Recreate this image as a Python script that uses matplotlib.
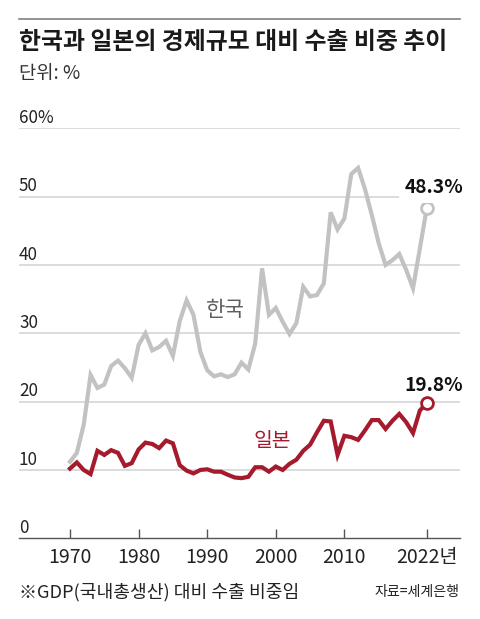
import matplotlib
matplotlib.use("Agg")
import matplotlib.pyplot as plt
from matplotlib.lines import Line2D
import matplotlib.transforms as mtransforms

years = list(range(1970, 2023))
korea = [11.2, 12.5, 16.6, 23.9, 22.0, 22.5, 25.2, 26.0, 24.9, 23.5,
         28.3, 30.0, 27.5, 28.0, 28.9, 26.7, 31.8, 34.8, 32.7, 27.3,
         24.6, 23.7, 24.0, 23.6, 24.0, 25.7, 24.7, 28.5, 39.5, 32.7,
         33.7, 31.7, 29.9, 31.5, 36.8, 35.4, 35.6, 37.3, 47.7, 45.2,
         46.8, 53.3, 54.2, 51.1, 47.3, 43.2, 40.0, 40.7, 41.6, 39.3,
         36.6, 42.4, 48.3]
japan = [10.2, 11.1, 10.0, 9.4, 12.8, 12.2, 12.9, 12.5, 10.6, 11.0,
         13.0, 14.0, 13.8, 13.2, 14.3, 13.9, 10.7, 9.9, 9.5, 10.0,
         10.1, 9.75, 9.75, 9.3, 8.9, 8.8, 9.0, 10.4, 10.4, 9.75,
         10.5, 10.0, 10.9, 11.5, 12.8, 13.7, 15.5, 17.2, 17.1, 12.2,
         15.0, 14.8, 14.4, 15.8, 17.3, 17.3, 16.0, 17.2, 18.2, 17.0,
         15.4, 18.7, 19.8]
xticks = [1970, 1980, 1990, 2000, 2010, 2022]
xtick_labels = ["1970", "1980", "1990", "2000", "2010", "2022년"]
yticks = [0, 10, 20, 30, 40, 50, 60]
ytick_labels = ["0", "10", "20", "30", "40", "50", "60%"]

KR = ["Noto Sans CJK KR", "DejaVu Sans"]
GRAY = "#c2c2c2"
RED = "#a51b2d"

fig = plt.figure(figsize=(4.8, 6.19), dpi=100)
W, H = 480, 619
ax = fig.add_axes([19 / W, 1 - 538.3 / H, 441 / W, 410 / H])
ax.set_xlim(1962.57, 2026.85)
ax.set_ylim(0, 60)

for s in ["top", "left", "right"]:
    ax.spines[s].set_visible(False)
ax.spines["bottom"].set_color("#555555")
ax.spines["bottom"].set_linewidth(1.0)

ax.yaxis.set_visible(False)
for v in yticks[1:]:
    ax.axhline(v, color="#d2d2d2", lw=1.1, zorder=1)

# y labels sit above their gridlines at the left edge
trans = mtransforms.blended_transform_factory(ax.transAxes, ax.transData)
for v, lab in zip(yticks, ytick_labels):
    ax.text(0, v + 0.2, lab, transform=trans, ha="left", va="bottom",
            fontsize=12.3, family=KR, color="#222222")

ax.set_xticks(xticks)
ax.set_xticklabels(xtick_labels, family=KR, fontsize=14, color="#222222")
ax.tick_params(axis="x", direction="in", length=6.5, width=1,
               color="#555555", pad=6)

ax.plot(years, korea, color=GRAY, lw=3, solid_joinstyle="miter", zorder=3)
ax.plot(years, japan, color=RED, lw=3, solid_joinstyle="miter", zorder=4)
ax.plot(years[-1], korea[-1], "o", ms=8.5, mfc="white", mec=GRAY, mew=2, zorder=5)
ax.plot(years[-1], japan[-1], "o", ms=8.5, mfc="white", mec=RED, mew=2, zorder=5)

ax.annotate(f"{korea[-1]}%", (years[-1], korea[-1]), xytext=(5, 15),
            textcoords="offset points", ha="center", va="center",
            fontsize=13.8, fontweight="bold", family=KR, color="#111111",
            bbox=dict(boxstyle="square,pad=0.3", fc="white", ec="none"), zorder=6)
ax.annotate(f"{japan[-1]}%", (years[-1], japan[-1]), xytext=(5, 12.5),
            textcoords="offset points", ha="center", va="center",
            fontsize=13.8, fontweight="bold", family=KR, color="#111111", zorder=6)

ax.text(1992.7, 33.4, "한국", family=KR, fontsize=15.2, fontweight="medium",
        color="#5e5e5e", ha="center", va="center")
ax.text(1999.5, 14.2, "일본", family=KR, fontsize=14.7, fontweight="medium",
        color=RED, ha="center", va="center")

# header and footer
fig.add_artist(Line2D([19 / W, 460 / W], [1 - 19 / H, 1 - 19 / H],
                      color="#808080", lw=1.2))
fig.text(19 / W, 1 - 42 / H, "한국과 일본의 경제규모 대비 수출 비중 추이",
         family=KR, fontsize=17.2, fontweight="bold", color="#1a1a1a",
         ha="left", va="center")
fig.text(19 / W, 1 - 74 / H, "단위: %", family=KR, fontsize=13.5,
         color="#333333", ha="left", va="center")
fig.text(19 / W, 1 - 592 / H, "※GDP(국내총생산) 대비 수출 비중임",
         family=KR, fontsize=13.1, color="#222222", ha="left", va="center")
fig.text(460 / W, 1 - 592 / H, "자료=세계은행", family=KR, fontsize=10.1,
         color="#222222", ha="right", va="center")

fig.savefig("out.png", dpi=100, facecolor="white")
